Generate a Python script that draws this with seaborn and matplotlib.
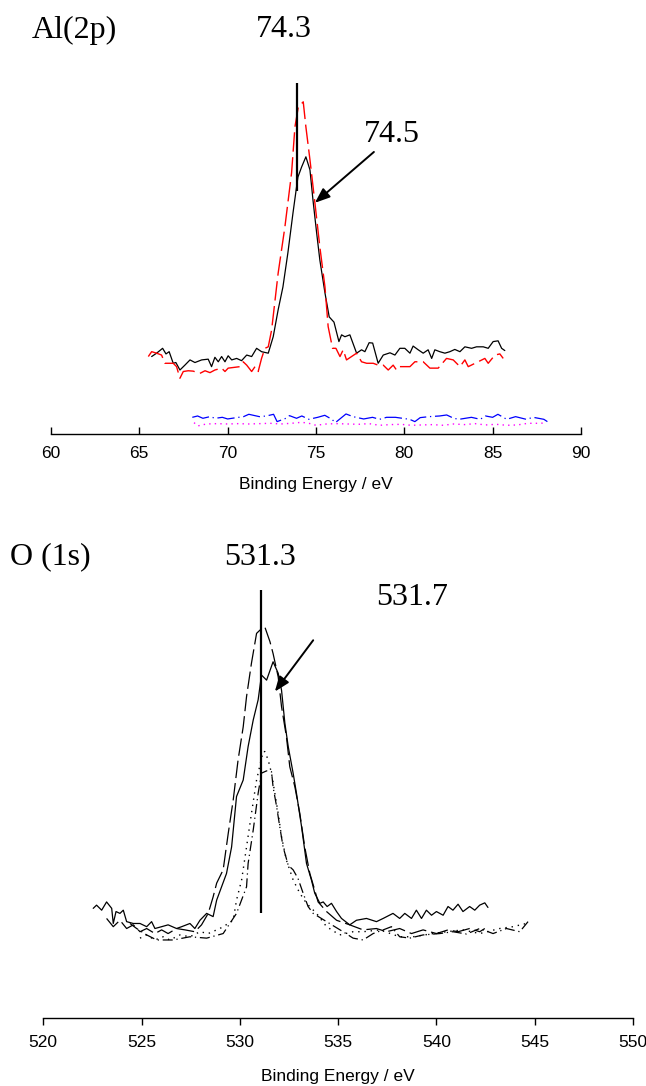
import matplotlib
matplotlib.use('Agg')
import matplotlib.pyplot as plt
import seaborn as sns

# ---- Al(2p) region (binding energy in eV, intensity in a.u.) ----
al_be_sample = [65.70, 65.98, 66.32, 66.51, 66.69, 66.92, 67.07, 67.30, 67.58, 67.87,
                68.15, 68.53, 68.90, 69.09, 69.28, 69.47, 69.66, 69.85, 70.03, 70.23,
                70.51, 70.79, 71.08, 71.36, 71.64, 71.92, 72.30, 72.58, 72.86, 73.13,
                73.41, 73.70, 73.90, 73.98, 74.19, 74.43, 74.66, 74.83, 75.04, 75.22,
                75.51, 75.75, 76.02, 76.30, 76.45, 76.64, 76.92, 77.30, 77.58, 77.77,
                78.01, 78.21, 78.52, 78.81, 79.19, 79.47, 79.75, 80.03, 80.32, 80.50,
                80.79, 81.07, 81.35, 81.55, 81.73, 82.01, 82.30, 82.58, 82.86, 83.15,
                83.43, 83.81, 84.09, 84.47, 84.75, 85.03, 85.31, 85.51, 85.69]
al_int_sample = [20.7, 21.6, 22.9, 21.4, 22.0, 18.9, 19.1, 17.1, 18.4, 19.8,
                 19.1, 19.8, 20.0, 18.0, 20.5, 19.3, 20.7, 19.3, 20.9, 19.8,
                 20.2, 19.6, 21.1, 20.7, 22.9, 22.0, 21.6, 26.0, 33.2, 39.3,
                 48.4, 59.1, 66.0, 68.7, 71.4, 74.1, 70.6, 62.6, 53.7, 46.5,
                 37.7, 31.3, 29.9, 24.7, 26.5, 26.0, 26.5, 21.6, 22.5, 22.0,
                 24.4, 24.3, 18.9, 21.1, 21.7, 21.1, 22.9, 22.9, 21.6, 23.5,
                 22.5, 21.6, 22.5, 20.2, 22.5, 22.0, 21.6, 22.0, 22.6, 22.0,
                 23.3, 22.9, 23.3, 23.3, 22.9, 24.7, 24.9, 22.9, 22.3]

al_be_ref = [65.51, 65.70, 65.98, 66.26, 66.45, 66.92, 67.11, 67.30, 67.49, 67.77,
             68.05, 68.43, 68.72, 69.00, 69.28, 69.66, 69.85, 70.03, 70.70, 70.88,
             71.08, 71.36, 71.55, 71.73, 71.92, 72.11, 72.30, 72.49, 72.86, 73.24,
             73.62, 73.81, 74.00, 74.28, 74.43, 74.66, 74.94, 75.22, 75.51, 75.69,
             75.94, 76.13, 76.36, 76.54, 76.73, 77.30, 77.58, 77.87, 78.24, 78.52,
             78.81, 79.09, 79.37, 79.56, 79.75, 80.32, 80.60, 81.07, 81.45, 81.92,
             82.39, 82.77, 83.15, 83.43, 83.62, 84.18, 84.56, 84.75, 85.13, 85.41,
             85.60]
al_int_ref = [20.7, 22.0, 21.6, 21.1, 18.9, 18.9, 18.0, 14.9, 16.7, 16.9,
              16.8, 16.2, 16.9, 16.4, 17.1, 17.6, 16.7, 17.6, 18.0, 19.3,
              18.4, 16.7, 18.0, 16.7, 20.2, 22.9, 23.3, 27.8, 43.0, 55.3,
              69.8, 82.1, 87.4, 88.8, 82.1, 73.3, 61.8, 50.0, 39.3, 28.7,
              22.9, 22.9, 20.7, 22.5, 19.8, 21.6, 19.3, 18.9, 18.9, 18.4,
              18.4, 17.1, 18.4, 17.1, 18.0, 18.0, 19.3, 19.3, 17.6, 17.6,
              20.2, 19.8, 18.0, 19.8, 18.0, 19.3, 20.2, 18.9, 21.1, 21.4,
              20.2]

al_be_blue = [68.0, 68.3, 68.6, 69.0, 69.3, 69.7, 70.0, 70.5, 70.9, 71.2,
              71.8, 72.2, 72.6, 72.8, 73.3, 73.5, 73.9, 74.2, 74.6, 75.1,
              75.5, 75.9, 76.1, 76.7, 77.1, 77.7, 78.2, 78.6, 79.0, 79.5,
              80.3, 80.6, 80.9, 81.4, 82.0, 82.4, 82.8, 83.1, 83.8, 84.3,
              84.6, 85.0, 85.3, 85.8, 86.3, 86.9, 87.3, 87.9, 88.1]
al_int_blue = [4.45, 4.81, 4.19, 4.63, 4.19, 4.45, 4.01, 4.37, 4.63, 5.26,
               4.63, 4.81, 5.26, 3.30, 4.19, 4.90, 4.19, 4.81, 3.92, 4.45,
               4.99, 3.92, 3.03, 5.35, 4.63, 4.01, 4.45, 3.92, 4.45, 4.45,
               3.92, 3.30, 4.37, 4.63, 4.81, 5.08, 4.19, 3.92, 4.45, 3.92,
               4.81, 4.45, 5.26, 3.92, 4.63, 3.92, 4.45, 3.92, 3.30]

al_be_mag = [68.1, 68.3, 68.8, 69.4, 70.0, 70.6, 71.2, 71.8, 72.4, 73.0,
             73.6, 74.2, 74.6, 75.0, 75.6, 76.2, 76.8, 77.4, 78.0, 78.6,
             79.2, 79.8, 80.4, 81.0, 81.6, 82.2, 82.8, 83.4, 84.0, 84.6,
             85.2, 85.8, 86.4, 87.0, 87.6, 88.0]
al_int_mag = [3.03, 2.14, 2.67, 2.76, 2.67, 2.76, 2.67, 2.76, 2.85, 2.67,
              2.85, 3.12, 2.85, 2.32, 2.67, 2.76, 2.67, 2.58, 2.76, 2.32,
              2.50, 2.58, 2.32, 2.41, 2.50, 2.32, 2.67, 2.50, 2.76, 2.41,
              2.58, 2.32, 2.41, 2.85, 2.85, 2.94]

al_ticks = [60, 65, 70, 75, 80, 85, 90]
al_marker_be = 73.9
al_marker_span = (65.0, 93.9)
al_arrow_tip = (74.94, 61.8)
al_arrow_tail = (78.28, 75.4)

# ---- O(1s) region ----
o_be_solid = [522.54, 522.71, 522.97, 523.22, 523.48, 523.56, 523.70, 523.90, 524.07, 524.24,
              524.58, 524.92, 525.26, 525.51, 525.68, 526.02, 526.35, 526.78, 527.04, 527.46,
              527.71, 527.97, 528.31, 528.64, 528.82, 529.07, 529.32, 529.58, 529.83, 530.17,
              530.42, 530.68, 530.93, 531.10, 531.36, 531.69, 531.95, 532.12, 532.29, 532.46,
              532.71, 532.88, 533.14, 533.39, 533.64, 533.81, 534.07, 534.24, 534.44, 534.66,
              534.92, 535.17, 535.59, 535.93, 536.44, 536.95, 537.29, 537.79, 538.13, 538.39,
              538.73, 538.98, 539.24, 539.49, 539.75, 540.00, 540.34, 540.59, 540.84, 541.10,
              541.35, 541.69, 541.95, 542.20, 542.46, 542.62]
o_int_solid = [24.0, 24.7, 23.6, 25.4, 24.0, 20.7, 23.3, 22.9, 23.6, 21.1,
               20.7, 20.7, 20.0, 21.1, 19.6, 20.0, 20.4, 19.6, 20.0, 20.7,
               19.6, 21.4, 22.9, 22.2, 25.8, 28.7, 31.6, 37.4, 48.4, 52.0,
               59.3, 65.1, 69.5, 74.9, 73.8, 77.8, 75.3, 71.6, 64.4, 59.3,
               53.5, 49.1, 41.8, 33.8, 30.2, 27.3, 25.1, 25.4, 24.4, 25.1,
               23.3, 21.8, 20.4, 21.4, 21.8, 21.1, 21.8, 22.9, 21.8, 22.9,
               21.8, 23.6, 21.8, 23.6, 22.5, 23.3, 22.5, 24.4, 23.6, 24.9,
               23.3, 24.4, 23.6, 24.7, 25.2, 24.2]

o_be_dash = [523.22, 523.56, 523.90, 524.24, 524.58, 524.92, 525.26, 525.68, 526.02, 526.35,
             526.78, 527.21, 527.71, 528.05, 528.39, 528.64, 528.82, 529.15, 529.41, 529.66,
             529.91, 530.17, 530.34, 530.59, 530.85, 531.02, 531.27, 531.53, 531.69, 531.95,
             532.12, 532.37, 532.54, 532.80, 533.05, 533.30, 533.56, 533.76, 533.98, 534.41,
             534.92, 535.59, 536.27, 536.95, 537.46, 538.13, 538.73, 539.32, 540.00, 540.59,
             541.10, 541.69, 542.20, 542.46]
o_int_dash = [21.8, 20.0, 21.4, 19.6, 20.4, 18.9, 19.6, 18.5, 19.3, 18.5,
              19.6, 19.3, 18.9, 20.4, 22.9, 26.5, 29.5, 32.4, 40.4, 47.6,
              56.4, 63.6, 70.2, 77.5, 84.0, 84.7, 85.4, 82.2, 79.6, 74.5,
              68.0, 61.4, 54.9, 50.5, 44.7, 37.4, 31.6, 28.7, 25.4, 23.3,
              21.4, 20.4, 19.3, 19.6, 18.9, 19.6, 18.5, 19.3, 18.5, 19.3,
              18.9, 19.6, 18.9, 19.6]

o_be_dot = [524.92, 525.26, 525.68, 526.10, 526.44, 526.95, 527.46, 527.97, 528.39, 528.98,
            529.15, 529.41, 529.66, 529.83, 530.09, 530.34, 530.59, 530.85, 531.18, 531.27,
            531.44, 531.61, 531.78, 531.95, 532.12, 532.37, 532.71, 533.05, 533.39, 533.90,
            534.41, 535.08, 535.76, 536.27, 537.12, 538.13, 538.81, 539.83, 540.51, 541.35,
            542.20, 543.22, 543.89, 544.58]
o_int_dot = [17.5, 18.2, 17.1, 17.8, 17.1, 18.2, 17.8, 18.9, 18.5, 19.6,
             20.0, 20.7, 21.4, 25.8, 30.2, 37.4, 44.7, 52.0, 58.2, 58.2,
             56.4, 53.5, 49.1, 44.7, 39.6, 34.5, 30.2, 27.3, 25.1, 22.9,
             20.0, 18.2, 18.9, 18.9, 19.3, 17.8, 17.8, 18.5, 18.9, 19.3,
             18.5, 19.6, 20.0, 20.7]

o_be_dashdot = [524.41, 524.75, 525.26, 525.77, 526.61, 527.46, 528.31, 529.15, 529.83, 530.34,
                530.42, 530.68, 530.93, 531.10, 531.36, 531.61, 531.69, 531.87, 532.03, 532.20,
                532.46, 532.71, 532.96, 533.22, 533.47, 533.73, 534.41, 535.25, 535.76, 536.27,
                536.78, 537.29, 537.71, 538.13, 538.64, 539.32, 540.17, 540.84, 541.53, 542.20,
                542.88, 543.56, 544.24, 544.66]
o_int_dashdot = [20.7, 19.6, 18.2, 17.1, 17.1, 17.8, 17.5, 18.5, 22.9, 28.7,
                 33.8, 41.1, 49.1, 53.5, 54.0, 53.8, 50.5, 46.2, 41.8, 37.4,
                 33.4, 32.4, 30.5, 27.3, 24.4, 22.9, 21.1, 18.9, 17.5, 17.1,
                 18.5, 19.3, 20.0, 17.8, 17.5, 18.2, 18.5, 18.9, 18.4, 19.6,
                 18.5, 19.6, 18.9, 21.1]

o_ticks = [520, 525, 530, 535, 540, 545, 550]
o_marker_be = 531.07
o_marker_span = (23.0, 93.5)
o_arrow_tip = (531.78, 71.3)
o_arrow_tail = (533.73, 82.5)

sns.set_style('white')
plt.rcParams['font.family'] = ['Liberation Sans', 'DejaVu Sans']
plt.rcParams['text.color'] = 'black'
plt.rcParams['axes.labelcolor'] = 'black'
plt.rcParams['xtick.color'] = 'black'
serif = ['Liberation Serif', 'DejaVu Serif']

fig = plt.figure(figsize=(6.46, 10.86), dpi=100)
ax1 = fig.add_axes([0.0789, 0.6004, 0.8204, 0.3444])
ax2 = fig.add_axes([0.0670, 0.0623, 0.9129, 0.4220])


def line(ax, x, y, **kw):
    sns.lineplot(x=x, y=y, ax=ax, estimator=None, sort=False, legend=False, **kw)


# Al(2p) panel
line(ax1, al_be_sample, al_int_sample, color='black', linewidth=0.9)
line(ax1, al_be_ref, al_int_ref, color='red', linewidth=1.0, linestyle=(0, (14, 4)))
line(ax1, al_be_blue, al_int_blue, color='blue', linewidth=0.9, linestyle=(0, (14, 3, 1, 3)))
line(ax1, al_be_mag, al_int_mag, color='magenta', linewidth=1.0, linestyle=(0, (1, 3)))
ax1.vlines(al_marker_be, *al_marker_span, color='black', linewidth=1.6)
ax1.annotate('', xy=al_arrow_tip, xytext=al_arrow_tail,
             arrowprops=dict(arrowstyle='-|>,head_length=0.9,head_width=0.35',
                             color='black', linewidth=1.4, shrinkA=0, shrinkB=0))
ax1.set_xlim(60, 90)
ax1.set_ylim(0, 100)
ax1.set_xticks(al_ticks)
ax1.tick_params(axis='x', bottom=True, direction='in', length=5, width=1, pad=9,
                labelsize=12.5, colors='black')

# O(1s) panel
line(ax2, o_be_solid, o_int_solid, color='black', linewidth=0.9)
line(ax2, o_be_dash, o_int_dash, color='black', linewidth=0.9, linestyle=(0, (14, 4)))
line(ax2, o_be_dot, o_int_dot, color='black', linewidth=1.0, linestyle=(0, (1, 3.5)))
line(ax2, o_be_dashdot, o_int_dashdot, color='black', linewidth=0.9,
     linestyle=(0, (8, 3, 1, 3)))
ax2.vlines(o_marker_be, *o_marker_span, color='black', linewidth=1.6)
ax2.annotate('', xy=o_arrow_tip, xytext=o_arrow_tail,
             arrowprops=dict(arrowstyle='-|>,head_length=0.9,head_width=0.35',
                             color='black', linewidth=1.4, shrinkA=0, shrinkB=0))
ax2.set_xlim(520, 550)
ax2.set_ylim(0, 100)
ax2.set_xticks(o_ticks)
ax2.tick_params(axis='x', bottom=True, direction='out', length=5, width=1, pad=7,
                labelsize=12.5, colors='black')

for ax, pad in ((ax1, 11), (ax2, 14)):
    for s in ('left', 'right', 'top'):
        ax.spines[s].set_visible(False)
    ax.spines['bottom'].set_color('black')
    ax.spines['bottom'].set_linewidth(1.0)
    ax.set_yticks([])
    ax.set_ylabel('')
    ax.patch.set_alpha(0)
    ax.set_xlabel('Binding Energy / eV', fontsize=12.5, labelpad=pad)

fig.text(0.0495, 0.9724, 'Al(2p)', family=serif, fontsize=23, va='center', ha='left')
fig.text(0.4396, 0.9724, '74.3', family=serif, fontsize=23, va='center', ha='center')
fig.text(0.6068, 0.8757, '74.5', family=serif, fontsize=23, va='center', ha='center')
fig.text(0.0155, 0.4871, 'O (1s)', family=serif, fontsize=23, va='center', ha='left')
fig.text(0.4025, 0.4871, '531.3', family=serif, fontsize=23, va='center', ha='center')
fig.text(0.6378, 0.4494, '531.7', family=serif, fontsize=23, va='center', ha='center')

fig.savefig('out.png', dpi=100, facecolor='white')
